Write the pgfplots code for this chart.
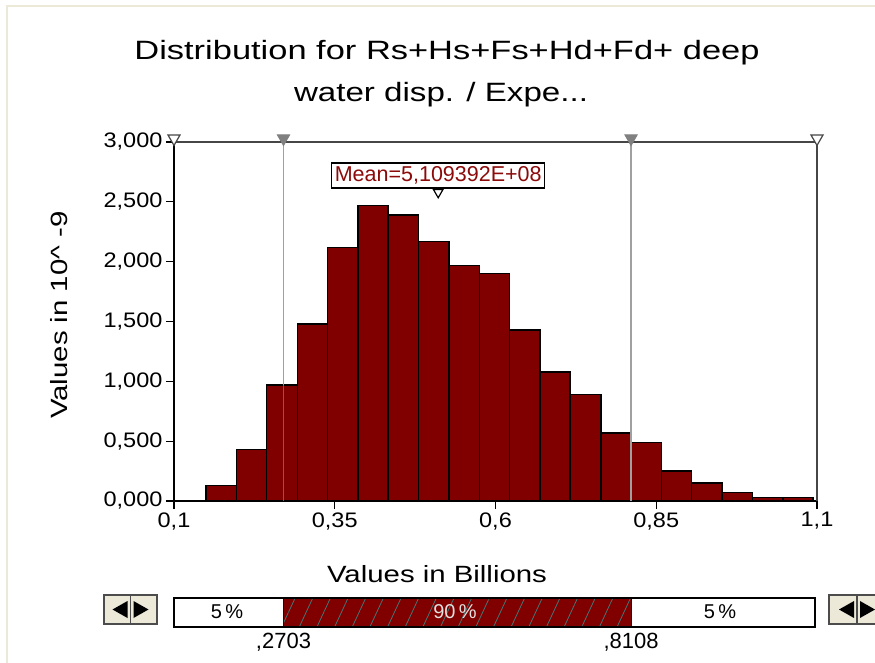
\documentclass[border=0pt]{standalone}
\usepackage{pgfplots}
\pgfplotsset{compat=1.18}
\usepackage{fontspec}
\setmainfont{Liberation Sans}
\usetikzlibrary{patterns.meta}

\definecolor{barred}{RGB}{128,0,0}
\definecolor{panel}{RGB}{236,233,216}
\definecolor{refgray}{RGB}{160,160,160}
\definecolor{hatch}{RGB}{70,115,115}
\definecolor{meanred}{RGB}{140,10,10}
\definecolor{axgray}{RGB}{70,70,70}

% the screen font is wider than Arial
\newcommand\wide[2]{\scalebox{#1}[1]{#2}}

\begin{document}
\begin{tikzpicture}
\path[use as bounding box] (0,0) rectangle (875pt,-663pt);
\fill[white] (0,0) rectangle (875pt,-663pt);
\draw[panel, line width=2.5pt] (7pt,-663pt) -- (7pt,-6pt) -- (875pt,-6pt);

% title
\node[font=\fontsize{26.5}{30}\selectfont, anchor=base] at (447pt,-60pt)
  {\wide{1.3}{Distribution for Rs+Hs+Fs+Hd+Fd+ deep}};
\node[font=\fontsize{26.5}{30}\selectfont, anchor=base] at (441pt,-102pt)
  {\wide{1.25}{water disp. / Expe...}};

\begin{axis}[
  at={(174pt,-501pt)}, anchor=south west,
  scale only axis, width=643pt, height=359pt,
  xmin=0.1, xmax=1.1, ymin=0, ymax=3,
  axis x line*=bottom, axis y line*=left,
  axis line style={-, black, line width=1.4pt},
  xtick={0.1,0.35,0.6,0.85,1.1},
  ytick={0,0.5,1,1.5,2,2.5,3},
  xtick align=outside, ytick align=outside,
  major tick length=8pt,
  tick style={black, line width=1.2pt},
  /pgf/number format/assume math mode=true,
  tick label style={font=\fontsize{21}{24}\selectfont},
  xticklabel={\wide{1.12}{\pgfmathprintnumber[fixed,precision=2,use comma]{\tick}}},
  yticklabel={\wide{1.12}{\pgfmathprintnumber[fixed,fixed zerofill,precision=3,use comma]{\tick}}},
  clip=false,
]
% histogram, bin edges and heights (x 1e-9)
\addplot[ybar interval, fill=barred, draw=black, line width=1.5pt] coordinates {
  (0.150,0.13) (0.197,0.43) (0.244,0.97) (0.292,1.48) (0.339,2.12)
  (0.386,2.47) (0.433,2.39) (0.480,2.17) (0.528,1.97) (0.575,1.90)
  (0.622,1.43) (0.669,1.08) (0.716,0.89) (0.764,0.57) (0.811,0.49)
  (0.858,0.25) (0.905,0.15) (0.952,0.07) (1.000,0.03) (1.047,0.03)
  (1.094,0.03)
};

% 5% / 95% delimiters
\addplot[refgray, line width=1.5pt] coordinates {(0.2703,0.97) (0.2703,3)};
\addplot[hatch, line width=1.5pt] coordinates {(0.2703,0) (0.2703,0.97)};
\addplot[refgray, line width=1.5pt] coordinates {(0.8108,0) (0.8108,3)};
% top and right frame
\addplot[axgray, line width=1.5pt] coordinates {(0.1,3) (1.1,3) (1.1,0)};

% markers on the top edge
\addplot[only marks, mark=triangle*, mark size=7pt,
  mark options={rotate=180, fill=white, draw=axgray, line width=1.2pt}]
  coordinates {(0.1,3.03) (1.1,3.03)};
\addplot[only marks, mark=triangle*, mark size=7pt,
  mark options={rotate=180, fill=gray, draw=gray, line width=1pt}]
  coordinates {(0.2703,3.03) (0.8108,3.03)};

% mean
\addplot[only marks, mark=triangle*, mark size=5.5pt,
  mark options={rotate=180, fill=white, draw=black, line width=1.2pt}]
  coordinates {(0.5109,2.58)};
\node[draw=black, line width=1.2pt, fill=white, text=meanred,
  font=\fontsize{21.5}{24}\selectfont, inner sep=3pt, minimum height=25pt]
  at (axis cs:0.5109,2.72) {Mean=5,109392E+08};

\coordinate (lo) at (axis cs:0.2703,0);
\coordinate (hi) at (axis cs:0.8108,0);
\coordinate (L) at (axis cs:0.1,0);
\coordinate (R) at (axis cs:1.1,0);
\end{axis}

% axis titles
\node[font=\fontsize{23.5}{28}\selectfont, anchor=base] at (437pt,-582pt)
  {\wide{1.25}{Values in Billions}};
\node[font=\fontsize{23.5}{28}\selectfont, anchor=base, rotate=90] at (67pt,-315pt)
  {\wide{1.25}{Values in 10\textasciicircum{} -9}};

% percentile slider
\fill[white] (L |- 0,-598pt) rectangle (R |- 0,-627pt);
\fill[barred] (lo |- 0,-598pt) rectangle (hi |- 0,-627pt);
\fill[pattern={Lines[angle=65, distance=16pt, line width=0.8pt]}, pattern color=hatch]
  (lo |- 0,-598pt) rectangle (hi |- 0,-627pt);
\draw[blue!60!black, line width=1pt] (lo |- 0,-598pt) -- (lo |- 0,-627pt);
\draw[blue!60!black, line width=1pt] (hi |- 0,-598pt) -- (hi |- 0,-627pt);
\draw[black, line width=1.5pt] (L |- 0,-598pt) rectangle ([xshift=-2pt]R |- 0,-627pt);
\node[font=\fontsize{20}{22}\selectfont] at (227pt,-612pt) {5\,\%};
\node[font=\fontsize{20}{22}\selectfont, text=black!12] at (455pt,-612pt) {90\,\%};
\node[font=\fontsize{20}{22}\selectfont] at (720pt,-612pt) {5\,\%};
\node[font=\fontsize{22}{26}\selectfont] at (lo |- 0,-642pt) {,2703};
\node[font=\fontsize{22}{26}\selectfont] at (hi |- 0,-642pt) {,8108};

% scroll buttons
\foreach \x/\d in {104/130.5, 829/857} {
  \fill[panel] (\x pt,-595pt) rectangle ++(53pt,-29pt);
  \draw[black!70, line width=1.5pt] (\x pt,-595pt) rectangle ++(53pt,-29pt);
  \draw[black!70, line width=1.2pt] (\d pt,-595pt) -- (\d pt,-624pt);
  \fill[black] ([xshift=-18pt]\d pt,-609.5pt) -- ([xshift=-3pt]\d pt,-601pt) -- ([xshift=-3pt]\d pt,-618pt) -- cycle;
  \fill[black] ([xshift=3pt]\d pt,-601pt) -- ([xshift=3pt]\d pt,-618pt) -- ([xshift=18pt]\d pt,-609.5pt) -- cycle;
}
\end{tikzpicture}
\end{document}
